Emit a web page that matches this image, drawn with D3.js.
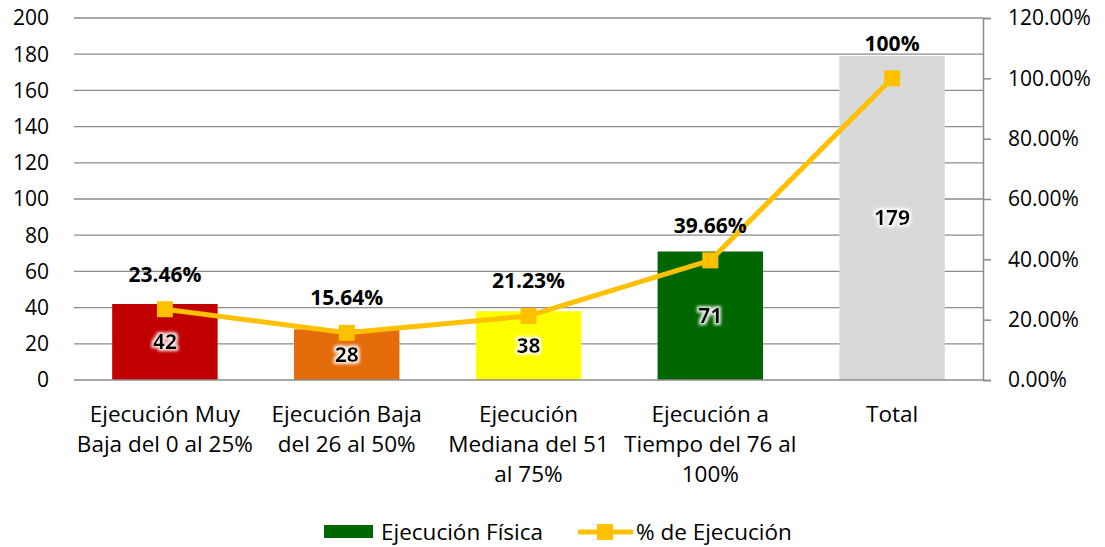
<!DOCTYPE html>
<html>
<head>
<meta charset="utf-8">
<script src="https://cdn.jsdelivr.net/npm/d3@7"></script>
<style>
  body { margin: 0; background: #fff; }
  text { font-family: "Open Sans", "Noto Sans", sans-serif; fill: #000; }
</style>
</head>
<body>
<svg width="1105" height="547"></svg>
<script>
// data
const categories = [
  ["Ejecución Muy", "Baja del 0 al 25%"],
  ["Ejecución Baja", "del 26 al 50%"],
  ["Ejecución", "Mediana del 51", "al 75%"],
  ["Ejecución a", "Tiempo del 76 al", "100%"],
  ["Total"]
];
const fisica = [42, 28, 38, 71, 179];
const porcentaje = [23.46, 15.64, 21.23, 39.66, 100];
const pctLabels = ["23.46%", "15.64%", "21.23%", "39.66%", "100%"];
const barColors = ["#C00000", "#E46C0A", "#FFFF00", "#006600", "#D9D9D9"];
const leftTicks = d3.range(0, 201, 20);
const rightTicks = d3.range(0, 121, 20);

const margin = { left: 74, right: 122, top: 18, bottom: 167 };
const width = 1105, height = 547;
const fs = 21, fsCat = 22.5;
const svg = d3.select("svg");

const x = d3.scaleBand()
  .domain(d3.range(categories.length))
  .range([margin.left, width - margin.right])
  .paddingInner(0.42)
  .paddingOuter(0.21);
const y = d3.scaleLinear().domain([0, 200]).range([height - margin.bottom, margin.top]);
const y2 = d3.scaleLinear().domain([0, 120]).range([height - margin.bottom, margin.top]);

// glow for labels inside bars
const defs = svg.append("defs");
const glow = defs.append("filter").attr("id", "glow").attr("x", "-30%").attr("y", "-30%").attr("width", "160%").attr("height", "160%");
glow.append("feMorphology").attr("in", "SourceAlpha").attr("operator", "dilate").attr("radius", 1.5).attr("result", "d");
glow.append("feGaussianBlur").attr("in", "d").attr("stdDeviation", 1.5).attr("result", "b");
glow.append("feFlood").attr("flood-color", "#fff").attr("flood-opacity", 0.9);
glow.append("feComposite").attr("in2", "b").attr("operator", "in").attr("result", "g");
const mg = glow.append("feMerge");
mg.append("feMergeNode").attr("in", "g");
mg.append("feMergeNode").attr("in", "SourceGraphic");

// gridlines
svg.append("g")
  .selectAll("line")
  .data(leftTicks.slice(1))
  .join("line")
    .attr("x1", margin.left)
    .attr("x2", width - margin.right)
    .attr("y1", d => y(d))
    .attr("y2", d => y(d))
    .attr("stroke", "#8c8c8c")
    .attr("stroke-width", 1.3);

// left axis labels
svg.append("g")
  .selectAll("text")
  .data(leftTicks)
  .join("text")
    .attr("x", 49)
    .attr("y", d => y(d))
    .attr("dy", "0.35em")
    .attr("text-anchor", "end")
    .attr("font-size", fs)
    .text(d => d);

// bars
svg.append("g")
  .selectAll("rect")
  .data(fisica)
  .join("rect")
    .attr("x", (d, i) => x(i))
    .attr("width", x.bandwidth())
    .attr("y", d => y(d))
    .attr("height", d => y(0) - y(d))
    .attr("fill", (d, i) => barColors[i]);

// bottom axis line
svg.append("line")
  .attr("x1", margin.left).attr("x2", width - margin.right)
  .attr("y1", y(0)).attr("y2", y(0))
  .attr("stroke", "#8c8c8c").attr("stroke-width", 1.5);

// right axis
const rAxis = svg.append("g")
  .attr("transform", `translate(${width - margin.right},0)`)
  .call(d3.axisRight(y2).tickValues(rightTicks).tickSize(8).tickPadding(17).tickFormat(d => d.toFixed(2) + "%"));
rAxis.select(".domain").attr("stroke", "#8c8c8c").attr("stroke-width", 1.5);
rAxis.selectAll(".tick line").attr("stroke", "#8c8c8c").attr("stroke-width", 1.5);
rAxis.selectAll(".tick text").attr("font-size", fs).attr("font-family", "Open Sans, Noto Sans, sans-serif").attr("fill", "#000");

// bar value labels
svg.append("g")
  .selectAll("text")
  .data(fisica)
  .join("text")
    .attr("x", (d, i) => x(i) + x.bandwidth() / 2)
    .attr("y", d => (y(d) + y(0)) / 2)
    .attr("dy", "0.35em")
    .attr("text-anchor", "middle")
    .attr("font-size", fs)
    .attr("font-weight", "bold")
    .attr("filter", "url(#glow)")
    .text(d => d);

// line series
const cx = i => x(i) + x.bandwidth() / 2;
const line = d3.line().x((d, i) => cx(i)).y(d => y2(d));
svg.append("path")
  .datum(porcentaje)
  .attr("d", line)
  .attr("fill", "none")
  .attr("stroke", "#FFC000")
  .attr("stroke-width", 5)
  .attr("stroke-linejoin", "round");

const ms = 16;
svg.append("g")
  .selectAll("rect")
  .data(porcentaje)
  .join("rect")
    .attr("x", (d, i) => cx(i) - ms / 2)
    .attr("y", d => y2(d) - ms / 2)
    .attr("width", ms)
    .attr("height", ms)
    .attr("fill", "#FFC000");

// percentage labels
svg.append("g")
  .selectAll("text")
  .data(porcentaje)
  .join("text")
    .attr("x", (d, i) => cx(i))
    .attr("y", d => y2(d) - 35)
    .attr("dy", "0.35em")
    .attr("text-anchor", "middle")
    .attr("font-size", fs)
    .attr("font-weight", "bold")
    .text((d, i) => pctLabels[i]);

// category labels
svg.append("g")
  .selectAll("text")
  .data(categories)
  .join("text")
    .attr("text-anchor", "middle")
    .attr("font-size", fsCat)
    .attr("x", (d, i) => cx(i))
    .attr("y", 414)
    .each(function(d) {
      d3.select(this).selectAll("tspan")
        .data(d)
        .join("tspan")
          .attr("x", d3.select(this).attr("x"))
          .attr("dy", (t, j) => j === 0 ? "0.35em" : "30")
          .text(t => t);
    });

// legend
const lg = svg.append("g");
lg.append("rect").attr("x", 324).attr("y", 525).attr("width", 49).attr("height", 13).attr("fill", "#006600");
lg.append("text").attr("x", 381).attr("y", 532).attr("dy", "0.35em").attr("font-size", fsCat).text("Ejecución Física");
lg.append("line").attr("x1", 580).attr("x2", 631).attr("y1", 532).attr("y2", 532)
  .attr("stroke", "#FFC000").attr("stroke-width", 5).attr("stroke-linecap", "round");
lg.append("rect").attr("x", 597).attr("y", 524).attr("width", 16).attr("height", 16).attr("fill", "#FFC000");
lg.append("text").attr("x", 636).attr("y", 532).attr("dy", "0.35em").attr("font-size", fsCat).text("% de Ejecución");
</script>
</body>
</html>
